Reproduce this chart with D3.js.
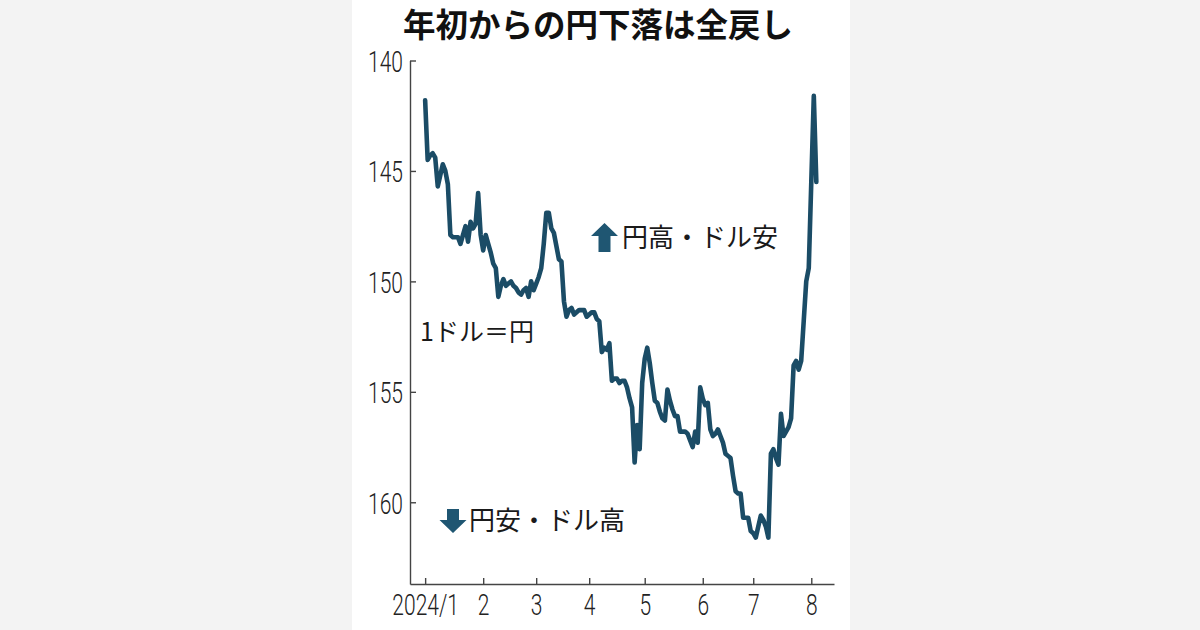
<!DOCTYPE html>
<html>
<head>
<meta charset="utf-8">
<script src="https://cdn.jsdelivr.net/npm/d3@7"></script>
<style>
  body { margin: 0; background: #f3f3f3; }
  svg { display: block; }
</style>
</head>
<body>
<svg id="chart" width="1200" height="630"></svg>
<script>
// 1ドル=円, one value per weekday starting 2024-01-01
const startDate = "2024-01-01";
const rate = [
  141.8, 144.5, 144.3, 144.2, 144.4, 145.7, 145.2, 144.7, 145.0, 145.6,
  147.9, 148.0, 148.0, 148.0, 148.3, 147.9, 147.5, 148.2, 147.3, 147.6,
  147.4, 146.0, 147.9, 148.6, 147.9, 148.3, 148.7, 149.2, 149.4, 150.7,
  150.2, 149.9, 150.2, 150.1, 150.0, 150.2, 150.3, 150.5, 150.6, 150.4,
  150.3, 150.7, 150.0, 150.4, 150.1, 149.8, 149.4, 148.3, 146.9, 146.9,
  147.6, 147.8, 148.4, 149.0, 149.1, 150.9, 151.6, 151.3, 151.2, 151.5,
  151.4, 151.3, 151.3, 151.3, 151.6, 151.5, 151.4, 151.4, 151.7, 151.8,
  153.2, 153.0, 153.1, 152.8, 154.5, 154.4, 154.4, 154.6, 154.5, 154.5,
  154.8, 155.3, 155.7, 158.2, 156.5, 157.6, 154.6, 153.5, 153.0, 153.7,
  154.6, 155.4, 155.5, 155.9, 156.2, 156.3, 154.9, 155.4, 155.8, 156.1,
  156.1, 156.8, 156.8, 156.8, 156.9, 157.2, 157.5, 156.8, 157.3, 154.8,
  155.3, 155.6, 155.5, 156.7, 157.0, 156.9, 156.7, 157.0, 157.3, 157.8,
  157.9, 158.0, 158.8, 159.5, 159.6, 159.6, 160.7, 160.7, 160.7, 161.3,
  161.4, 161.6, 161.1, 160.6, 160.8, 161.1, 161.6, 157.8, 157.6, 158.0,
  158.3, 156.0, 157.0, 156.8, 156.6, 156.2, 153.8, 153.6, 154.0, 153.6,
  151.8, 150.0, 149.4, 145.5, 141.6, 145.5
];
const yTicks = [140, 145, 150, 155, 160];
const monthLabels = ["2024/1", "2", "3", "4", "5", "6", "7", "8"];

const titleText = "年初からの円下落は全戻し";
const unitText = "1ドル＝円";
const upText = "円高・ドル安";
const downText = "円安・ドル高";

const lineColor = "#1b4c66";
const arrowColor = "#1f5672";
const axisColor = "#444";
const cjk = "'Noto Sans CJK JP', 'Noto Sans CJK SC', sans-serif";
const digits = "Roboto, 'Liberation Sans', sans-serif";
const squeeze = 0.7;

// weekdays only
const start = d3.timeParse("%Y-%m-%d")(startDate);
const dates = d3.timeDay.range(start, d3.timeDay.offset(start, 400))
  .filter(d => d.getDay() % 6 !== 0)
  .slice(0, rate.length);
const data = rate.map((v, i) => ({ i: i, date: dates[i], value: v }));
const monthIdx = monthLabels.map((l, m) => dates.findIndex(d => d.getMonth() === m));

const svg = d3.select("#chart");

// white card behind the chart
svg.append("rect")
  .attr("x", 352).attr("y", 0)
  .attr("width", 498).attr("height", 630)
  .attr("fill", "#fff");

const x = d3.scaleLinear().domain([-6, 162]).range([410, 834]);
const y = d3.scaleLinear().domain([140, 163.7]).range([60.5, 584]);

// title
svg.append("text")
  .attr("x", 598).attr("y", 37)
  .attr("text-anchor", "middle")
  .style("font-family", cjk)
  .style("font-weight", "bold")
  .style("font-size", "32.5px")
  .attr("fill", "#111")
  .text(titleText);

// y axis
const yAxis = svg.append("g")
  .attr("transform", "translate(410,0)")
  .call(d3.axisLeft(y).tickValues(yTicks).tickSize(-6).tickSizeOuter(0).tickPadding(7));
yAxis.selectAll("text")
  .attr("x", -7 / squeeze)
  .attr("dy", "0.36em")
  .attr("transform", `scale(${squeeze},1)`)
  .style("font-family", digits)
  .style("font-weight", 300)
  .style("font-size", "30px")
  .attr("fill", "#222");

// x axis
const xAxis = svg.append("g")
  .attr("transform", "translate(0,584)")
  .call(d3.axisBottom(x).tickValues(monthIdx)
    .tickFormat((d, i) => monthLabels[i])
    .tickSize(-6).tickSizeOuter(0));
xAxis.selectAll("text")
  .attr("x", 0)
  .attr("y", 31)
  .attr("dy", 0)
  .attr("transform", `scale(${squeeze},1)`)
  .style("font-family", digits)
  .style("font-weight", 300)
  .style("font-size", "30px")
  .attr("fill", "#222");

[yAxis, xAxis].forEach(a => {
  a.selectAll("path, line").attr("stroke", axisColor).attr("stroke-width", 1.4);
});

// rate line
const line = d3.line()
  .x(d => x(d.i))
  .y(d => y(d.value));

svg.append("path")
  .datum(data)
  .attr("d", line)
  .attr("fill", "none")
  .attr("stroke", lineColor)
  .attr("stroke-width", 4.6)
  .attr("stroke-linejoin", "round")
  .attr("stroke-linecap", "round");

// block arrows
function arrow(cx, tipY, dir, len) {
  const p = d3.path();
  const head = 13, hw = 13.5, sw = 6;
  p.moveTo(0, 0);
  p.lineTo(hw, head);
  p.lineTo(sw, head);
  p.lineTo(sw, len);
  p.lineTo(-sw, len);
  p.lineTo(-sw, head);
  p.lineTo(-hw, head);
  p.closePath();
  svg.append("path")
    .attr("d", p.toString())
    .attr("transform", `translate(${cx},${tipY}) scale(1,${dir})`)
    .attr("fill", arrowColor);
}
arrow(604.5, 223, 1, 29);
arrow(453, 533, -1, 24);

const note = (tx, ty, size, s) => svg.append("text")
  .attr("x", tx).attr("y", ty)
  .style("font-family", cjk)
  .style("font-size", size + "px")
  .attr("fill", "#1a1a1a")
  .text(s);

note(622, 247, 26, upText);
note(469, 530, 26, downText);
note(420, 341, 25, unitText);
</script>
</body>
</html>
